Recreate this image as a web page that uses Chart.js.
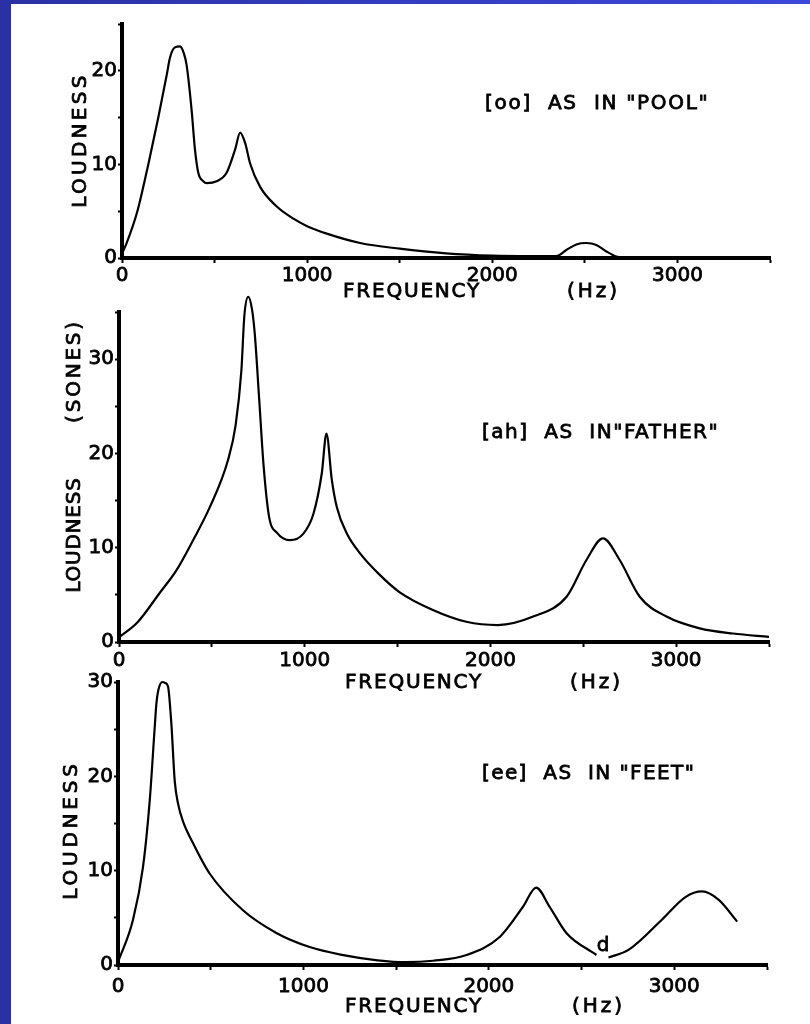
<!DOCTYPE html>
<html>
<head>
<meta charset="utf-8">
<script src="https://cdn.jsdelivr.net/npm/chart.js@4.4.1/dist/chart.umd.min.js"></script>
<style>
  html, body { margin: 0; padding: 0; }
  body { width: 810px; height: 1024px; position: relative; overflow: hidden;
         background: linear-gradient(to right, #2a31a4, #3c48dc); }
  #sheet { position: absolute; left: 11px; top: 4px; right: 0; bottom: 0; background: #fff; }
  canvas { position: absolute; left: 0; top: 0; }
</style>
</head>
<body>
<div id="sheet"></div>
<canvas id="pool" width="810" height="1024"></canvas>
<canvas id="father" width="810" height="1024"></canvas>
<canvas id="feet" width="810" height="1024"></canvas>
<script>
// valeurs (Hz / sones)
const freqPool = [0, 25, 83, 142, 196, 242, 259, 286, 313, 335, 349, 376, 394, 412, 439, 458, 511, 565, 611, 638,
  665, 692, 746, 836, 926, 1000, 1106, 1286, 1500, 1750, 2000, 2200, 2345, 2400, 2454, 2508, 2562, 2616, 2670, 2720];
const loudPool = [0.5, 1.6, 5, 10, 15, 19.6, 21.4, 22.5, 22.6, 21.8, 20.6, 15.8, 11.6, 9.1, 8.2, 8.0, 8.2, 9.1, 11.6, 13.4,
  12.3, 10.1, 7.6, 5.5, 4.2, 3.4, 2.6, 1.6, 1.0, 0.5, 0.25, 0.2, 0.2, 0.85, 1.45, 1.6, 1.4, 0.7, 0.15, 0];

const freqFather = [0, 100, 219, 309, 399, 489, 587, 628, 659, 675, 696, 716, 731, 755, 779, 808, 850, 920, 993, 1047,
  1092, 1117, 1146, 1173, 1227, 1298, 1400, 1510, 1690, 1870, 2040, 2230, 2410, 2517, 2606, 2696, 2804, 2948, 3127, 3307, 3500];
const loudFather = [0.5, 2.1, 5.2, 7.6, 10.8, 14.3, 19.3, 23.0, 28.8, 34.6, 36.6, 35.3, 32.7, 25.7, 18.6, 13.3, 11.6, 10.8, 11.5, 13.6,
  17.9, 22.1, 17.2, 14.3, 11.5, 9.4, 7.2, 5.3, 3.4, 2.15, 1.8, 2.7, 4.8, 8.7, 11.0, 8.7, 4.8, 2.7, 1.45, 0.9, 0.55];

const freqFeet = [0, 81, 135, 171, 198, 207, 217, 240, 255, 270, 288, 306, 325, 351, 405, 494, 674, 854, 1034, 1200,
  1400, 1550, 1700, 1880, 2060, 2185, 2255, 2327, 2418, 2580, 2612, 2645, 2753, 2933, 3060, 3150, 3240, 3339];
const loudFeet = [0.3, 4.8, 10.4, 17.4, 25.2, 27.7, 29.1, 30, 29.9, 29.5, 25.5, 19.5, 17.0, 15.2, 12.9, 9.7, 5.8, 3.4, 1.9, 1.1,
  0.5, 0.3, 0.45, 1.06, 3.0, 6.2, 8.2, 6.2, 3.4, 1.06, null, 0.8, 1.6, 4.8, 7.2, 7.8, 6.9, 4.6];

const xLabels = [0, 1000, 2000, 3000];
const yLabels = [0, 10, 20, 30];

const FONT = '"DejaVu Sans"';
const STROKE = 0.8; // épaissit un peu le lettrage
Chart.defaults.font.family = FONT;
Chart.defaults.color = '#000';

// textes dessinés à la main (lettrage espacé)
const lettering = {
  id: 'lettering',
  afterDraw(chart, args, opts) {
    const ctx = chart.ctx;
    (opts.items || []).forEach(it => {
      ctx.save();
      ctx.font = (it.size || 20) + 'px ' + FONT;
      ctx.fillStyle = '#000';
      ctx.strokeStyle = '#000';
      ctx.lineWidth = STROKE;
      ctx.letterSpacing = (it.spacing || 0) + 'px';
      ctx.textBaseline = 'middle';
      ctx.textAlign = it.align || 'left';
      ctx.translate(it.x, it.y);
      if (it.rotate) ctx.rotate(-Math.PI / 2);
      ctx.strokeText(it.text, 0, 0);
      ctx.fillText(it.text, 0, 0);
      ctx.restore();
    });
  }
};

function makeChart(id, freq, loud, yMax, area, labelPad, items) {
  const yw = 60, xh = 50;
  new Chart(document.getElementById(id), {
    type: 'line',
    data: {
      datasets: [{
        data: freq.map((f, i) => ({ x: f, y: loud[i] })),
        borderColor: '#000',
        borderWidth: 2.2,
        pointRadius: 0,
        fill: false,
        cubicInterpolationMode: 'monotone',
        spanGaps: false,
        clip: false
      }]
    },
    options: {
      responsive: false,
      animation: false,
      events: [],
      layout: {
        padding: {
          left: area.left - yw,
          right: 810 - area.right,
          top: area.top,
          bottom: 1024 - area.bottom - xh
        }
      },
      plugins: {
        legend: { display: false },
        tooltip: { enabled: false },
        lettering: { items }
      },
      scales: {
        x: {
          type: 'linear', min: 0, max: 3500,
          afterFit: s => { s.height = xh; },
          border: { width: 4, color: '#000' },
          grid: { drawOnChartArea: false, drawTicks: true, tickLength: 5, tickWidth: 2, tickColor: '#000' },
          ticks: {
            stepSize: 500, autoSkip: false, maxRotation: 0, padding: labelPad,
            font: { size: 20 }, color: '#000',
            textStrokeColor: '#000', textStrokeWidth: STROKE,
            callback: v => xLabels.includes(v) ? String(v) : ''
          }
        },
        y: {
          min: 0, max: yMax,
          afterFit: s => { s.width = yw; },
          border: { width: 4, color: '#000' },
          grid: { drawOnChartArea: false, drawTicks: true, tickLength: 4, tickWidth: 2, tickColor: '#000' },
          ticks: {
            stepSize: 5, autoSkip: false, padding: 1,
            font: { size: 20 }, color: '#000',
            textStrokeColor: '#000', textStrokeWidth: STROKE,
            callback: v => yLabels.includes(v) ? String(v) : ''
          }
        }
      }
    },
    plugins: [lettering]
  });
}

makeChart('pool', freqPool, loudPool, 25, { left: 122, right: 770, top: 24, bottom: 258 }, 1, [
  { text: '[oo]  AS  IN "POOL"', x: 485, y: 104, spacing: 1.7 },
  { text: 'LOUDNESS', x: 80.5, y: 140, rotate: true, align: 'center', spacing: 3.3 },
  { text: 'FREQUENCY', x: 343, y: 292, spacing: 1.8 },
  { text: '(Hz)', x: 567, y: 292, spacing: 3 }
]);

makeChart('father', freqFather, loudFather, 35, { left: 119, right: 769, top: 312, bottom: 642 }, 2, [
  { text: '[ah]  AS  IN"FATHER"', x: 482, y: 433, spacing: 1.5 },
  { text: 'LOUDNESS', x: 74.5, y: 535, rotate: true, align: 'center', spacing: 0.8 },
  { text: '(SONES)', x: 75, y: 371, rotate: true, align: 'center', spacing: 2.8 },
  { text: 'FREQUENCY', x: 345, y: 683, spacing: 1.8 },
  { text: '(Hz)', x: 570, y: 683, spacing: 3 }
]);

makeChart('feet', freqFeet, loudFeet, 30, { left: 118, right: 767, top: 682, bottom: 965 }, 5, [
  { text: '[ee]  AS  IN "FEET"', x: 482, y: 774, spacing: 1.4 },
  { text: 'LOUDNESS', x: 71.5, y: 830, rotate: true, align: 'center', spacing: 3.8 },
  { text: 'FREQUENCY', x: 345, y: 1007, spacing: 1.8 },
  { text: '(Hz)', x: 572, y: 1007, spacing: 3 },
  { text: 'd', x: 603, y: 946, align: 'center' }
]);
</script>
</body>
</html>
